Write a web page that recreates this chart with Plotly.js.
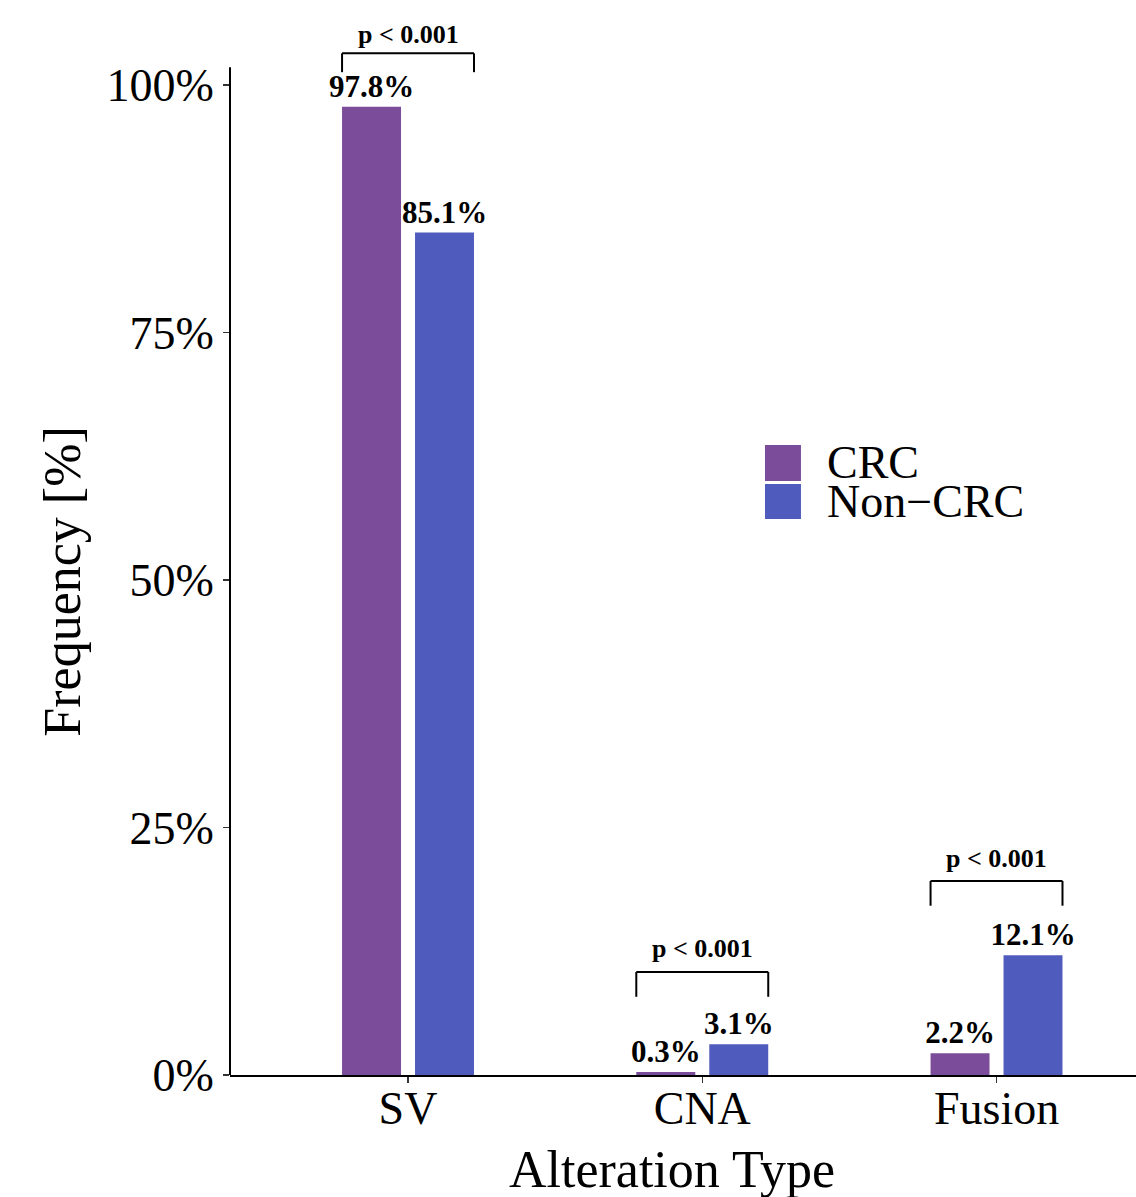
<!DOCTYPE html>
<html>
<head>
<meta charset="utf-8">
<script src="https://cdn.plot.ly/plotly-3.0.1.min.js"></script>
<style>
  html, body { margin: 0; padding: 0; background: #ffffff; }
  #chart { width: 1136px; height: 1197px; }
</style>
</head>
<body>
<div id="chart"></div>
<script>
// Alteration frequency by cohort
const categories = ["SV", "CNA", "Fusion"];
const seriesNames = ["CRC", "Non\u2212CRC"];
const crcValues = [97.8, 0.3, 2.2];
const nonCrcValues = [85.1, 3.1, 12.1];
const pLabels = ["p < 0.001", "p < 0.001", "p < 0.001"];
const yTickValues = [0, 25, 50, 75, 100];

// styling
const colors = ["#7A4C99", "#505CBD"];
const serif = "Liberation Serif, Times New Roman, serif";
const bargap = 0.504;
const bargroupgap = 0.192;
const yTop = 106.57;         // plotted range top
const yLineTop = 101.8;      // where the drawn y axis line stops
// bracket placement: height above the taller bar, leg length, label gap (px)
const bracketLift = [5.4, 7.3, 7.5];
const bracketLeg = [1.9, 2.5, 2.5];
const labelGap = [2, 7, 6];

const traces = [crcValues, nonCrcValues].map((vals, i) => ({
  type: "bar",
  name: seriesNames[i],
  x: categories,
  y: vals,
  marker: { color: colors[i], line: { width: 0 } },
  text: vals.map(v => v.toFixed(1) + "%"),
  textposition: "outside",
  constraintext: "none",
  cliponaxis: false,
  textfont: { family: serif, size: 31, color: "#000000", weight: "bold" },
  hoverinfo: "x+y",
  showlegend: false
}));

const shapes = [];
const annotations = [];
// half span of a bar pair, from group centre to the outer bar edge
const slot = (1 - bargap) / 2;
const barW = slot * (1 - bargroupgap);
const half = slot / 2 + barW / 2;

categories.forEach((c, i) => {
  const top = Math.max(crcValues[i], nonCrcValues[i]) + bracketLift[i];
  const leg = top - bracketLeg[i];
  const x0 = i - half, x1 = i + half;
  const line = { color: "#000000", width: 2 };
  shapes.push({ type: "line", xref: "x", yref: "y", x0: x0, x1: x0, y0: leg, y1: top, line });
  shapes.push({ type: "line", xref: "x", yref: "y", x0: x0, x1: x1, y0: top, y1: top, line });
  shapes.push({ type: "line", xref: "x", yref: "y", x0: x1, x1: x1, y0: top, y1: leg, line });
  annotations.push({
    xref: "x", yref: "y", x: i, y: top, yanchor: "bottom", xanchor: "center",
    yshift: labelGap[i], showarrow: false, text: pLabels[i],
    font: { family: serif, size: 26, color: "#000000", weight: "bold" }
  });
});

// y axis line, stopping a little above 100%
shapes.push({
  type: "line", xref: "paper", yref: "paper", x0: 0, x1: 0, y0: 0, y1: yLineTop / yTop,
  line: { color: "#000000", width: 2 }
});

// legend keys
const legendX0 = 0.5905, legendX1 = 0.6302;
const keyRows = [[0.5972, 0.5630], [0.5602, 0.5270]];
keyRows.forEach((r, i) => {
  shapes.push({
    type: "rect", xref: "paper", yref: "paper", x0: legendX0, x1: legendX1, y0: r[1], y1: r[0],
    fillcolor: colors[i], line: { width: 0 }
  });
  annotations.push({
    xref: "paper", yref: "paper", x: 0.657, y: (r[0] + r[1]) / 2, xanchor: "left", yanchor: "middle",
    showarrow: false, text: seriesNames[i],
    font: { family: serif, size: 46, color: "#000000" }
  });
});

// axis titles
annotations.push({
  xref: "paper", yref: "paper", x: 0.4879, y: -0.0895, xanchor: "center", yanchor: "middle",
  showarrow: false, text: "Alteration Type",
  font: { family: serif, size: 52, color: "#000000" }
});
annotations.push({
  xref: "paper", yref: "paper", x: -0.185, y: 0.468, xanchor: "center", yanchor: "middle",
  textangle: -90, showarrow: false, text: "Frequency [%]",
  font: { family: serif, size: 52, color: "#000000" }
});

const layout = {
  width: 1136,
  height: 1197,
  margin: { l: 230, r: 0, t: 20, b: 122, pad: 0 },
  paper_bgcolor: "#ffffff",
  plot_bgcolor: "#ffffff",
  barmode: "group",
  bargap: bargap,
  bargroupgap: bargroupgap,
  showlegend: false,
  xaxis: {
    type: "category",
    range: [-0.605, 2.474],
    showline: true, linecolor: "#000000", linewidth: 2,
    ticks: "outside", ticklen: 6, tickwidth: 1.5, tickcolor: "#333333",
    ticklabelstandoff: -14,
    tickfont: { family: serif, size: 46, color: "#000000" },
    showgrid: false, zeroline: false, fixedrange: true
  },
  yaxis: {
    range: [0, yTop],
    tickvals: yTickValues,
    ticktext: yTickValues.map(v => v + "%"),
    showline: false,
    ticks: "outside", ticklen: 6, tickwidth: 1.5, tickcolor: "#333333",
    tickfont: { family: serif, size: 46, color: "#000000" },
    showgrid: false, zeroline: false, fixedrange: true
  },
  shapes: shapes,
  annotations: annotations
};

Plotly.newPlot("chart", traces, layout, { displayModeBar: false, staticPlot: true });
</script>
</body>
</html>
